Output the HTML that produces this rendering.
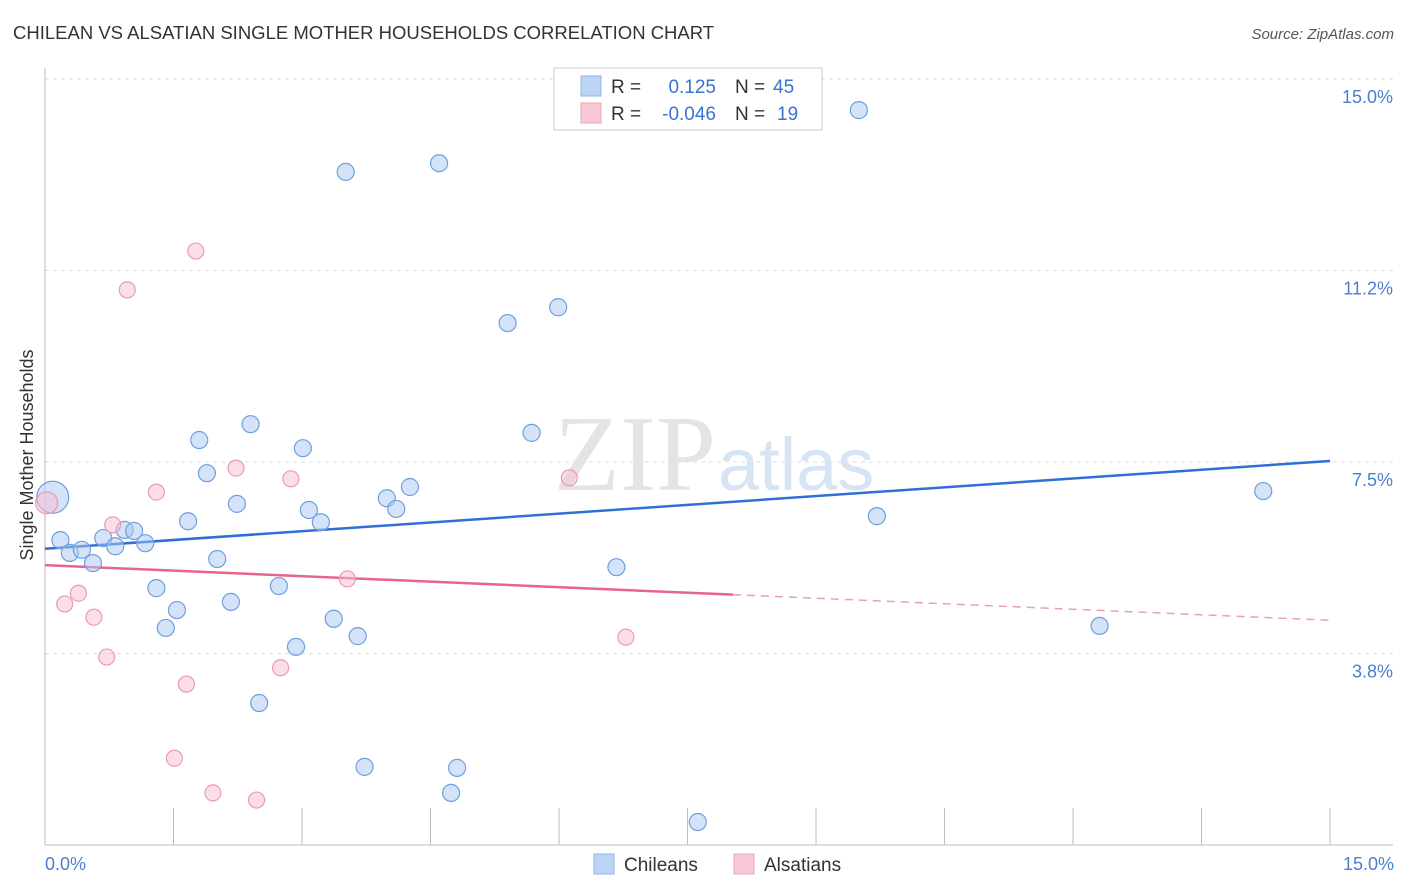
<!DOCTYPE html>
<html><head><meta charset="utf-8"><style>
body{margin:0;background:#fff;font-family:"Liberation Sans",sans-serif;}
svg{display:block}
</style></head><body>
<svg id="chart" width="1406" height="892" xmlns="http://www.w3.org/2000/svg">
<text x="13" y="39" font-size="18.5" fill="#333">CHILEAN VS ALSATIAN SINGLE MOTHER HOUSEHOLDS CORRELATION CHART</text>
<text x="1394" y="39" font-size="15" fill="#555" text-anchor="end" font-style="italic">Source: ZipAtlas.com</text>
<g id="grid"></g>
<text x="716" y="490" font-size="108" fill="#e4e4e4" text-anchor="end" font-family="Liberation Serif">ZIP</text>
<text x="718" y="490" font-size="74" fill="#d6e4f4">atlas</text>
<g id="axes"></g>
<g id="lines"></g>
<g id="pts"></g>
<text x="-455" y="33" transform="rotate(-90)" font-size="18" fill="#333" text-anchor="middle">Single Mother Households</text>
<text x="45" y="870" font-size="18" fill="#4a7fd0">0.0%</text>
<text x="1394" y="870" font-size="18" fill="#4a7fd0" text-anchor="end">15.0%</text>
<g>
<rect x="554" y="68" width="268" height="62" fill="#fff" stroke="#ccc"/>
<rect x="581" y="76" width="20" height="20" fill="#bcd4f5" stroke="#8fb3e8"/>
<rect x="581" y="103" width="20" height="20" fill="#f9c8d6" stroke="#eea5bb"/>
<text x="611" y="93" font-size="19" fill="#333">R = </text><text x="716" y="93" font-size="19" fill="#3a73cc" text-anchor="end">0.125</text>
<text x="735" y="93" font-size="19" fill="#333">N = </text><text x="773" y="93" font-size="19" fill="#3a73cc">45</text>
<text x="611" y="120" font-size="19" fill="#333">R = </text><text x="716" y="120" font-size="19" fill="#3a73cc" text-anchor="end">-0.046</text>
<text x="735" y="120" font-size="19" fill="#333">N = </text><text x="777" y="120" font-size="19" fill="#3a73cc">19</text>
</g>
<g>
<rect x="594" y="854" width="20" height="20" fill="#bcd4f5" stroke="#8fb3e8"/>
<text x="624" y="871" font-size="19" fill="#333">Chileans</text>
<rect x="734" y="854" width="20" height="20" fill="#f9c8d6" stroke="#eea5bb"/>
<text x="764" y="871" font-size="19" fill="#333">Alsatians</text>
</g>
</svg>
<script>
const blueX=[0.09,0.18,0.29,0.43,0.56,0.68,0.82,0.93,1.04,1.17,1.30,1.41,1.54,1.67,1.80,1.89,2.01,2.17,2.24,2.40,2.50,2.73,2.93,3.01,3.08,3.22,3.37,3.51,3.65,3.73,3.99,4.10,4.26,4.60,4.74,4.81,5.40,5.68,5.99,6.67,7.62,9.50,9.71,12.31,14.22];
const blueY=[6.81,5.97,5.72,5.78,5.52,6.01,5.85,6.17,6.15,5.91,5.03,4.25,4.60,6.34,7.93,7.28,5.60,4.76,6.68,8.24,2.78,5.07,3.88,7.77,6.56,6.32,4.43,13.18,4.09,1.53,6.79,6.58,7.01,13.35,1.02,1.51,10.22,8.07,10.53,5.44,0.45,14.39,6.44,4.29,6.93];
const pinkX=[0.02,0.23,0.39,0.57,0.72,0.79,0.96,1.30,1.51,1.65,1.76,1.96,2.23,2.47,2.75,2.87,3.53,6.12,6.78];
const pinkY=[6.70,4.72,4.93,4.46,3.68,6.27,10.87,6.91,1.70,3.15,11.63,1.02,7.38,0.88,3.47,7.17,5.21,7.19,4.07];
const yTicks=[3.75,7.5,11.25,15];
const yTickLabels=["3.8%","7.5%","11.2%","15.0%"];
const blueTrend=[5.80,7.52];
const pinkTrend=[5.48,4.40];
const pinkSolidEnd=8.03;
const X=v=>45+v*85.67, Y=v=>845-v*51.07;
const NS="http://www.w3.org/2000/svg";
function mk(t,a,p){const e=document.createElementNS(NS,t);for(const k in a)e.setAttribute(k,a[k]);p.appendChild(e);return e;}
const grid=document.getElementById('grid'),axes=document.getElementById('axes'),lines=document.getElementById('lines'),pts=document.getElementById('pts'),svg=document.getElementById('chart');
yTicks.forEach((t,i)=>{const l=mk('line',{x1:45,x2:1393,y1:Y(t),y2:Y(t),stroke:'#ddd','stroke-dasharray':'4,4'},grid);


const tx=mk('text',{x:1393,y:Y(t)+24,'font-size':18,fill:'#4a7fd0','text-anchor':'end'},svg);tx.textContent=yTickLabels[i];

});
mk('line',{x1:45,x2:45,y1:68,y2:845,stroke:'#bbb'},axes);
mk('line',{x1:45,x2:1393,y1:845,y2:845,stroke:'#bbb'},axes);
for(let i=1;i<=10;i++){const t=mk('line',{x1:X(i*1.5),x2:X(i*1.5),y1:808,y2:845,stroke:'#bbb'},axes);

}
const bl=mk('line',{x1:X(0),y1:Y(blueTrend[0]),x2:X(15),y2:Y(blueTrend[1]),stroke:'#2f6fd6','stroke-width':2.5},lines);


const pAt=x=>pinkTrend[0]+(pinkTrend[1]-pinkTrend[0])*x/15;
const pl=mk('line',{x1:X(0),y1:Y(pinkTrend[0]),x2:X(pinkSolidEnd),y2:Y(pAt(pinkSolidEnd)),stroke:'#e8648f','stroke-width':2.5},lines);


const pd=mk('line',{x1:X(pinkSolidEnd),y1:Y(pAt(pinkSolidEnd)),x2:X(15),y2:Y(pinkTrend[1]),stroke:'#e8a0b8','stroke-width':1.5,'stroke-dasharray':'8,6'},lines);


blueX.forEach((x,i)=>{const c=mk('circle',{cx:X(x),cy:Y(blueY[i]),r:i==0?16:8.5,fill:'rgba(170,200,240,0.5)',stroke:'#6f9fdf','stroke-width':1.2},pts);

});
pinkX.forEach((x,i)=>{const c=mk('circle',{cx:X(x),cy:Y(pinkY[i]),r:i==0?11:8,fill:'rgba(248,190,208,0.5)',stroke:'#e99ab4','stroke-width':1.2},pts);

});
</script>
</body></html>
